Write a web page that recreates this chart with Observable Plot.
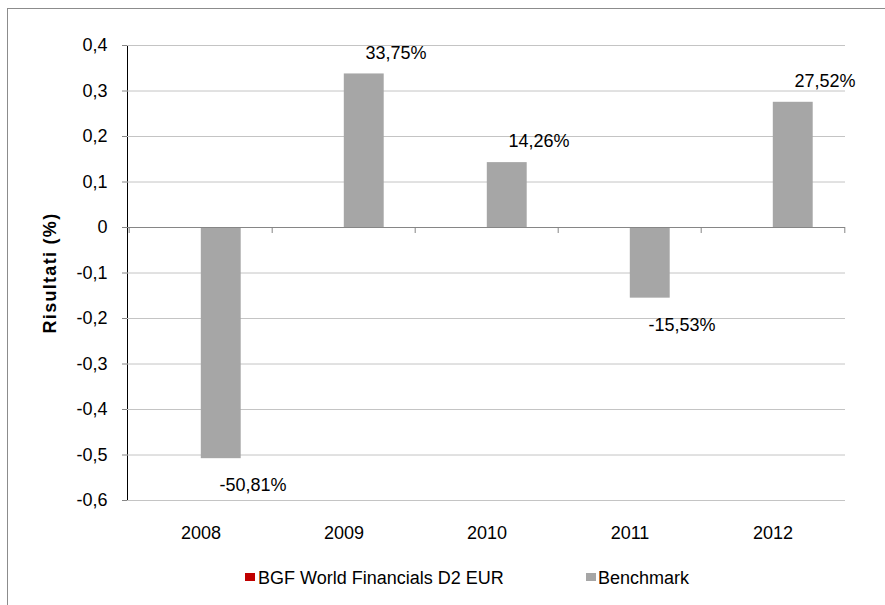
<!DOCTYPE html>
<html>
<head>
<meta charset="utf-8">
<script src="https://cdn.jsdelivr.net/npm/d3@7"></script>
<script src="https://cdn.jsdelivr.net/npm/@observablehq/plot@0.6"></script>
<style>
  html, body { margin: 0; padding: 0; background: #ffffff; overflow: hidden; }
  #wrap { position: relative; width: 885px; height: 605px; font-family: "Liberation Sans", Arial, sans-serif; }
  #border { position: absolute; left: 7px; top: 8px; width: 1000px; height: 1000px; border: 1px solid #8c8c8c; pointer-events: none; z-index: 2; }
  #chart { position: absolute; left: 0; top: 0; }
  #chart svg { background: transparent !important; }
  #chart g[aria-label^="y-axis"] line, #chart g[aria-label^="y-axis"] path { stroke: #868686 !important; stroke-opacity: 1 !important; }
  .lg-sw { position: absolute; width: 10px; height: 8px; }
  .lg-tx { position: absolute; font-size: 18px; line-height: 20px; color: #000; white-space: nowrap; }
</style>
</head>
<body>
<div id="wrap">
  <div id="chart"></div>
  <div id="legend"></div>
  <div id="border"></div>
</div>
<script>
// ---- data ----
const years = ["2008", "2009", "2010", "2011", "2012"];
const seriesNames = ["BGF World Financials D2 EUR", "Benchmark"];
const seriesColors = ["#c00000", "#a6a6a6"];
const fundValues = [null, null, null, null, null];
const benchmarkValues = [-0.5081, 0.3375, 0.1426, -0.1553, 0.2752];
const yTicks = [0.4, 0.3, 0.2, 0.1, 0, -0.1, -0.2, -0.3, -0.4, -0.5, -0.6];
const yTickLabels = ["0,4", "0,3", "0,2", "0,1", "0", "-0,1", "-0,2", "-0,3", "-0,4", "-0,5", "-0,6"];
const yTitle = "Risultati (%)";

// ---- layout ----
const W = 885, H = 556, mL = 127, mR = 40, mT = 45, mB = 56;
const bw = (W - mL - mR) / years.length;
const barW = 40.5;
const tickGray = "#868686";

const fundRows = years.map((y, i) => ({year: y, value: fundValues[i]})).filter(d => d.value != null);
const benchRows = years.map((y, i) => ({year: y, value: benchmarkValues[i]}));
const pct = v => (v * 100).toFixed(2).replace(".", ",") + "%";

const chart = Plot.plot({
  width: W,
  height: H,
  marginLeft: mL,
  marginRight: mR,
  marginTop: mT,
  marginBottom: mB,
  style: {fontFamily: '"Liberation Sans", Arial, sans-serif', fontSize: "18px", color: "#000", background: "transparent"},
  x: {domain: years, padding: 0, label: null, tickSize: 0, tickPadding: 26},
  y: {
    domain: [-0.6, 0.4],
    ticks: yTicks,
    tickFormat: d => yTickLabels[yTicks.findIndex(t => Math.abs(t - d) < 1e-9)],
    tickSize: 5,
    tickPadding: 15,
    label: null,
    line: true
  },
  marks: [
    Plot.ruleY(yTicks.filter(d => d !== 0), {stroke: "#c4c4c4", strokeWidth: 1}),
    Plot.barY(fundRows, {x: "year", y: "value", fill: seriesColors[0], insetLeft: bw / 2 - barW, insetRight: bw / 2}),
    Plot.barY(benchRows, {x: "year", y: "value", fill: seriesColors[1], insetLeft: bw / 2, insetRight: bw / 2 - barW}),
    Plot.ruleY([0], {stroke: tickGray, strokeWidth: 1}),
    Plot.ruleX(years, {x: d => d, y1: 0, y2: 0, insetBottom: -6, dx: -bw / 2, stroke: tickGray}),
    Plot.ruleX([years[years.length - 1]], {x: d => d, y1: 0, y2: 0, insetBottom: -6, dx: bw / 2, stroke: tickGray}),
    Plot.text(benchRows.filter(d => d.value >= 0), {x: "year", y: "value", text: d => pct(d.value), dx: 52, dy: -21, fontSize: 18, fill: "#000"}),
    Plot.text(benchRows.filter(d => d.value < 0), {x: "year", y: "value", text: d => pct(d.value), dx: 52, dy: 27, fontSize: 18, fill: "#000"}),
    Plot.text([yTitle], {frameAnchor: "left", textAnchor: "middle", lineAnchor: "middle", dx: -77, rotate: -90, fontWeight: "bold", fontSize: 18, fill: "#000"})
  ]
});
d3.select(chart).selectAll("text").filter(function() { return this.textContent === yTitle; }).attr("letter-spacing", "1.3px");
document.getElementById("chart").appendChild(chart);

// ---- legend ----
const legend = document.getElementById("legend");
const legendPos = [{sw: 245, tx: 258}, {sw: 586, tx: 598}];
seriesNames.forEach((name, i) => {
  const sw = document.createElement("div");
  sw.className = "lg-sw";
  sw.style.left = legendPos[i].sw + "px";
  sw.style.top = "573px";
  sw.style.background = seriesColors[i];
  legend.appendChild(sw);
  const tx = document.createElement("div");
  tx.className = "lg-tx";
  tx.style.left = legendPos[i].tx + "px";
  tx.style.top = "568px";
  tx.textContent = name;
  legend.appendChild(tx);
});
</script>
</body>
</html>
